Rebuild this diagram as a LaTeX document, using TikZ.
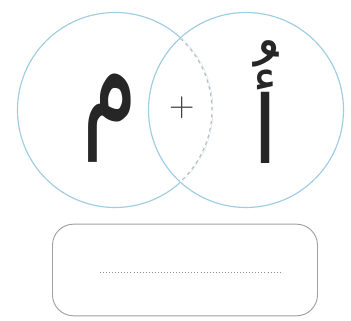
\documentclass[tikz,border=0pt]{standalone}
\usepackage{fontspec}
\newfontfamily\arabicfont[Script=Arabic]{DejaVu Sans}
\TeXXeTstate=1
\usetikzlibrary{positioning, calc}

\definecolor{ringblue}{RGB}{160,205,225}
\definecolor{ringgrey}{RGB}{185,190,195}
\definecolor{boxgrey}{RGB}{160,160,160}

\begin{document}
\begin{tikzpicture}[
    x = 0.03cm, y = -0.03cm,
    ring/.style     = {circle, draw = ringblue, line width = 1pt,
                       minimum size = 5.85cm, inner sep = 0pt},
    letter/.style   = {font = \arabicfont\fontsize{80}{80}\selectfont,
                       text = black!85, inner sep = 0pt},
    plussign/.style = {font = \fontsize{30}{30}\selectfont, text = black!75},
    answerbox/.style = {rectangle, draw = boxgrey, line width = 0.8pt,
                       rounded corners = 18pt, minimum width = 7.95cm,
                       minimum height = 2.75cm},
    dotline/.style  = {draw = black!45, line width = 0.6pt, dotted}
  ]

  \useasboundingbox (0,0) rectangle (351,321);

  % Two overlapping rings
  \node[ring] (lring) at (115,110) {};
  \node[ring] (rring) at (246,110) {};
  \coordinate (topcut) at (180.5,38.5);
  \draw[white, line width = 1.6pt]
    (topcut) arc[start angle = -47.5, end angle = 47.5, radius = 97];
  \draw[ringgrey, line width = 1pt, dashed]
    (topcut) arc[start angle = -47.5, end angle = 47.5, radius = 97];

  % Letters and plus sign
  \node[letter] (mim)  at (110,118) {\scalebox{0.95}[1.55]{\beginR م\endR}};
  \node[letter] (alef) at (266,102) {\beginR أُ\endR};
  \node[plussign] (plus) at (182,108) {+};

  % Answer box with writing line
  \node[answerbox] (answer) at (185,270) {};
  \coordinate (lineL) at (100,272);
  \coordinate (lineR) at (282,272);
  \draw[dotline] (lineL) -- (lineR);

\end{tikzpicture}
\end{document}
